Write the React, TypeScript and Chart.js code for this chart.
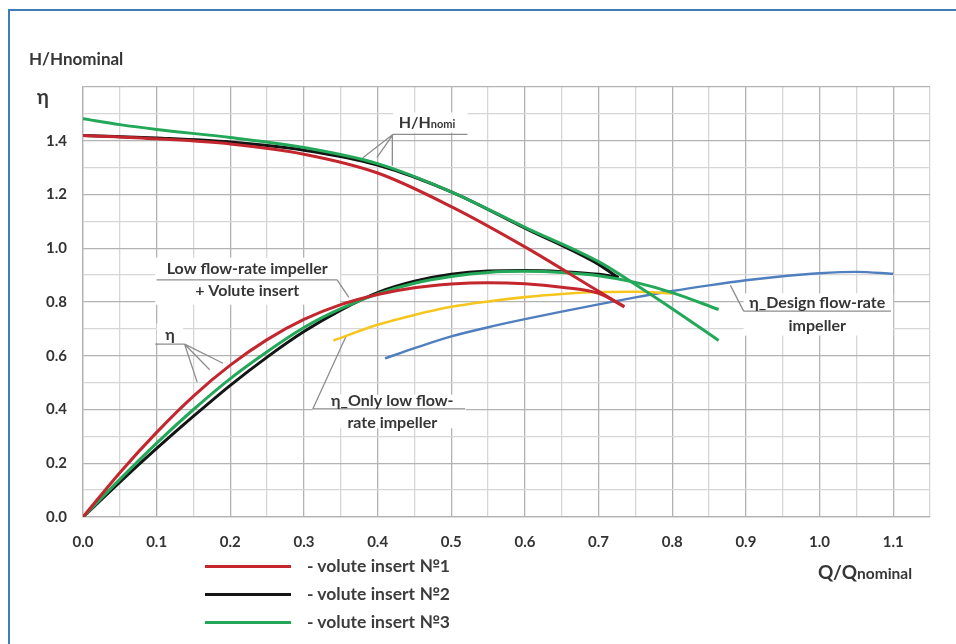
import React, { useEffect, useRef } from "react";
import { Chart, registerables } from "chart.js";

Chart.register(...registerables);

const FONT = "Lato, 'Open Sans', sans-serif";

// ---- Head curves H/Hnominal ----
const qHRed = [0, 0.1, 0.2, 0.3, 0.4, 0.5, 0.6, 0.7, 0.735];
const hRed = [1.42, 1.407, 1.388, 1.35, 1.28, 1.155, 1.005, 0.84, 0.783];
const qHBlack = [0, 0.1, 0.2, 0.3, 0.4, 0.5, 0.6, 0.7, 0.727];
const hBlack = [1.42, 1.41, 1.395, 1.365, 1.31, 1.21, 1.075, 0.94, 0.89];
const qHGreen = [0, 0.05, 0.1, 0.2, 0.3, 0.4, 0.5, 0.6, 0.7, 0.75, 0.8, 0.863];
const hGreen = [1.482, 1.46, 1.442, 1.412, 1.375, 1.315, 1.21, 1.078, 0.95, 0.865, 0.775, 0.657];

// ---- Efficiency curves η ----
const qEtaRed = [0, 0.05, 0.1, 0.15, 0.2, 0.25, 0.3, 0.35, 0.4, 0.45, 0.5, 0.55, 0.6, 0.65, 0.7, 0.735];
const etaRed = [0, 0.165, 0.315, 0.45, 0.565, 0.66, 0.735, 0.79, 0.828, 0.853, 0.867, 0.872, 0.868, 0.855, 0.832, 0.782];
const qEtaBlack = [0, 0.05, 0.1, 0.15, 0.2, 0.25, 0.3, 0.35, 0.4, 0.45, 0.5, 0.55, 0.6, 0.65, 0.7, 0.727];
const etaBlack = [0, 0.13, 0.255, 0.375, 0.49, 0.595, 0.69, 0.77, 0.835, 0.877, 0.903, 0.915, 0.917, 0.913, 0.903, 0.892];
const qEtaGreen = [0, 0.05, 0.1, 0.15, 0.2, 0.25, 0.3, 0.35, 0.4, 0.45, 0.5, 0.55, 0.6, 0.65, 0.7, 0.75, 0.8, 0.863];
const etaGreen = [0, 0.14, 0.275, 0.4, 0.515, 0.615, 0.705, 0.775, 0.83, 0.87, 0.895, 0.91, 0.914, 0.91, 0.898, 0.873, 0.835, 0.772];
const qEtaLow = [0.34, 0.4, 0.45, 0.5, 0.55, 0.6, 0.65, 0.7, 0.75, 0.8];
const etaLow = [0.657, 0.715, 0.752, 0.782, 0.802, 0.818, 0.83, 0.837, 0.838, 0.832];
const qEtaDesign = [0.41, 0.45, 0.5, 0.55, 0.6, 0.65, 0.7, 0.75, 0.8, 0.85, 0.9, 0.95, 1.0, 1.05, 1.1];
const etaDesign = [0.59, 0.628, 0.672, 0.706, 0.736, 0.764, 0.791, 0.817, 0.841, 0.862, 0.881, 0.896, 0.907, 0.912, 0.905];

const legendLabels = ["- volute insert \u21161", "- volute insert \u21162", "- volute insert \u21163"];
const legendColors = ["#c4262e", "#141414", "#23a85a"];

const RED = "#c4262e";
const BLACK = "#141414";
const GREEN = "#23a85a";
const YELLOW = "#f6c61f";
const BLUE = "#4f7fbe";

// annotation boxes in data units
type Ann = {
  texts: { t: string; sub?: string; x: number; y: number }[];
  ul: [number, number, number];
  leaders: [number, number, number, number][];
  box: [number, number, number, number];
};
const ANNOTATIONS: Ann[] = [
  {
    texts: [{ t: "H/H", sub: "nomi", x: 0.467, y: 1.468 }],
    ul: [0.421, 0.522, 1.424],
    leaders: [
      [0.421, 1.424, 0.38, 1.337],
      [0.421, 1.424, 0.399, 1.337],
      [0.42, 1.424, 0.42, 1.307],
    ],
    box: [0.421, 1.505, 0.522, 1.43],
  },
  {
    texts: [
      { t: "Low flow-rate impeller", x: 0.223, y: 0.925 },
      { t: "+ Volute insert", x: 0.223, y: 0.843 },
    ],
    ul: [0.1, 0.345, 0.882],
    leaders: [[0.345, 0.882, 0.361, 0.817]],
    box: [0.098, 0.965, 0.349, 0.79],
  },
  {
    texts: [{ t: "\u03b7", x: 0.118, y: 0.68 }],
    ul: [0.098, 0.138, 0.643],
    leaders: [
      [0.138, 0.643, 0.155, 0.502],
      [0.138, 0.643, 0.172, 0.548],
      [0.138, 0.643, 0.19, 0.572],
    ],
    box: [0.1, 0.72, 0.136, 0.648],
  },
  {
    texts: [
      { t: "\u03b7_Only low flow-", x: 0.42, y: 0.434 },
      { t: "rate impeller", x: 0.42, y: 0.35 },
    ],
    ul: [0.312, 0.519, 0.402],
    leaders: [[0.312, 0.402, 0.357, 0.672]],
    box: [0.312, 0.455, 0.52, 0.33],
  },
  {
    texts: [
      { t: "\u03b7_Design flow-rate", x: 0.997, y: 0.798 },
      { t: "impeller", x: 0.997, y: 0.713 },
    ],
    ul: [0.897, 1.097, 0.766],
    leaders: [[0.897, 0.766, 0.879, 0.862]],
    box: [0.897, 0.832, 1.1, 0.675],
  },
];

const annPlugin = {
  id: "anns",
  beforeDatasetsDraw(chart: any) {
    const { ctx } = chart;
    const xs = chart.scales.x;
    const ys = chart.scales.y;
    const px = (v: number) => xs.getPixelForValue(v);
    const py = (v: number) => ys.getPixelForValue(v);
    ctx.save();
    for (const a of ANNOTATIONS) {
      const [bx1, by1, bx2, by2] = a.box;
      ctx.fillStyle = "#ffffff";
      ctx.fillRect(px(bx1), py(by1), px(bx2) - px(bx1), py(by2) - py(by1));
      ctx.strokeStyle = "#8d8d8d";
      ctx.lineWidth = 1.3;
      ctx.beginPath();
      ctx.moveTo(px(a.ul[0]), py(a.ul[2]));
      ctx.lineTo(px(a.ul[1]), py(a.ul[2]));
      for (const l of a.leaders) {
        ctx.moveTo(px(l[0]), py(l[1]));
        ctx.lineTo(px(l[2]), py(l[3]));
      }
      ctx.stroke();
      ctx.fillStyle = "#363636";
      ctx.textBaseline = "alphabetic";
      for (const t of a.texts) {
        const cx = px(t.x);
        const cy = py(t.y) + 5.5;
        if (t.sub) {
          ctx.font = `bold 16px ${FONT}`;
          const w1 = ctx.measureText(t.t).width;
          ctx.font = `bold 11px ${FONT}`;
          const w2 = ctx.measureText(t.sub).width;
          const start = cx - (w1 + w2) / 2;
          ctx.textAlign = "left";
          ctx.font = `bold 16px ${FONT}`;
          ctx.fillText(t.t, start, cy);
          ctx.font = `bold 11px ${FONT}`;
          ctx.fillText(t.sub, start + w1, cy);
        } else {
          ctx.font = `bold 16px ${FONT}`;
          ctx.textAlign = "center";
          ctx.fillText(t.t, cx, cy);
        }
      }
    }
    ctx.restore();
  },
};

function pts(q: number[], v: number[]) {
  return q.map((x, i) => ({ x, y: v[i] }));
}

function line(label: string, q: number[], v: number[], color: string, width: number) {
  return {
    label,
    data: pts(q, v),
    borderColor: color,
    backgroundColor: color,
    borderWidth: width,
    showLine: true,
    pointRadius: 0,
    pointHoverRadius: 0,
    cubicInterpolationMode: "monotone" as const,
    fill: false,
  };
}

export default function App() {
  const ref = useRef<HTMLCanvasElement | null>(null);

  useEffect(() => {
    if (!ref.current) return;
    const chart = new Chart(ref.current, {
      type: "scatter",
      data: {
        datasets: [
          line("H red", qHRed, hRed, RED, 3),
          line("eta red", qEtaRed, etaRed, RED, 3),
          line("H green", qHGreen, hGreen, GREEN, 3),
          line("eta green", qEtaGreen, etaGreen, GREEN, 3),
          line("H black", qHBlack, hBlack, BLACK, 3),
          line("eta black", qEtaBlack, etaBlack, BLACK, 3),
          line("eta low", qEtaLow, etaLow, YELLOW, 2.6),
          line("eta design", qEtaDesign, etaDesign, BLUE, 2.4),
        ] as any,
      },
      options: {
        animation: false,
        responsive: false,
        devicePixelRatio: 1,
        layout: { padding: { left: 0, top: 87, right: 26, bottom: 0 } },
        plugins: {
          legend: { display: false },
          tooltip: { enabled: false },
        },
        scales: {
          x: {
            type: "linear",
            min: 0,
            max: 1.15,
            afterFit: (s: any) => {
              s.height = 127;
            },
            grid: {
              drawTicks: false,
              lineWidth: 1.3,
              color: (c: any) =>
                Math.round(c.tick.value * 100) % 10 === 0 ? "#b3b3b3" : "#d6d6d6",
            },
            border: { display: true, color: "#b3b3b3", width: 1.3 },
            ticks: {
              stepSize: 0.05,
              autoSkip: false,
              maxRotation: 0,
              padding: 16,
              color: "#333333",
              font: { family: FONT, size: 15, weight: "bold" },
              callback: (v: any) => {
                const r = Math.round(Number(v) * 100);
                return r % 10 === 0 && r <= 110 ? (r / 100).toFixed(1) : "";
              },
            },
          },
          y: {
            type: "linear",
            min: 0,
            max: 1.6,
            afterFit: (s: any) => {
              s.width = 83;
            },
            grid: {
              drawTicks: false,
              lineWidth: 1.3,
              color: (c: any) =>
                Math.round(c.tick.value * 10) % 2 === 0 ? "#b3b3b3" : "#d6d6d6",
            },
            border: { display: true, color: "#b3b3b3", width: 1.3 },
            ticks: {
              stepSize: 0.1,
              autoSkip: false,
              padding: 16,
              color: "#333333",
              font: { family: FONT, size: 15, weight: "bold" },
              callback: (v: any) => {
                const r = Math.round(Number(v) * 10);
                return r % 2 === 0 && r < 16 ? (r / 10).toFixed(1) : "";
              },
            },
          },
        },
      },
      plugins: [annPlugin],
    });
    return () => chart.destroy();
  }, []);

  const textStyle: React.CSSProperties = {
    position: "absolute",
    fontFamily: FONT,
    fontWeight: 700,
    color: "#363636",
    whiteSpace: "nowrap",
    lineHeight: 1,
  };

  return (
    <div
      style={{
        position: "fixed",
        left: 0,
        top: 0,
        width: 956,
        height: 644,
        background: "#ffffff",
        overflow: "hidden",
      }}
    >
      <div
        style={{
          position: "absolute",
          left: 8,
          top: 9,
          width: 960,
          height: 650,
          borderTop: "2px solid #3f7cba",
          borderLeft: "2px solid #3f7cba",
        }}
      />
      <canvas
        ref={ref}
        width={956}
        height={644}
        style={{ position: "absolute", left: 0, top: 0, width: 956, height: 644 }}
      />
      <div style={{ ...textStyle, left: 29, top: 50, fontSize: 17 }}>H/Hnominal</div>
      <div style={{ ...textStyle, left: 37, top: 86, fontSize: 20 }}>{"\u03b7"}</div>
      <div style={{ ...textStyle, left: 818, top: 562, fontSize: 19 }}>
        Q/Q<span style={{ fontSize: 15.5 }}>nominal</span>
      </div>
      {legendLabels.map((lab, i) => (
        <div key={lab}>
          <div
            style={{
              position: "absolute",
              left: 205,
              top: 566 + i * 28 - 1.5,
              width: 86,
              height: 3,
              background: legendColors[i],
            }}
          />
          <div
            style={{
              ...textStyle,
              left: 307,
              top: 557 + i * 28,
              fontSize: 17.5,
              color: "#3c3c3c",
            }}
          >
            {lab}
          </div>
        </div>
      ))}
    </div>
  );
}
